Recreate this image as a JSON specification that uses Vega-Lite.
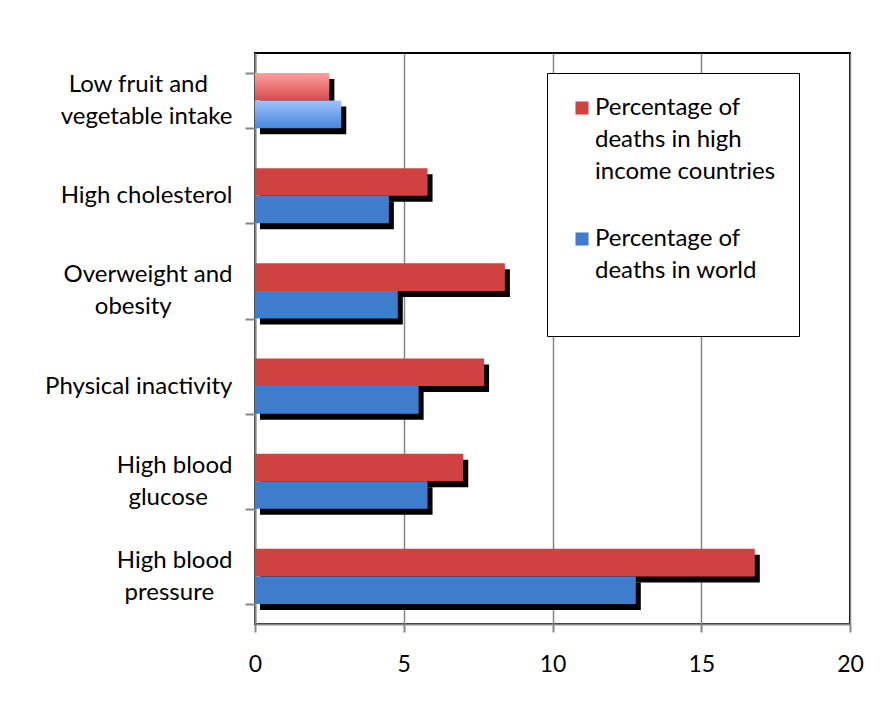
{
  "$schema": "https://vega.github.io/schema/vega-lite/v6.json",
  "width": 595,
  "height": 571,
  "autosize": {"type": "none"},
  "padding": {"left": 255, "top": 53, "right": 30, "bottom": 81},
  "background": "white",
  "config": {
    "font": "Lato",
    "view": {"stroke": "black", "strokeWidth": 2},
    "axis": {"labelFont": "Lato", "labelFontSize": 24, "labelColor": "black", "domainColor": "#868686", "domainWidth": 2, "tickColor": "#868686", "tickWidth": 2, "gridColor": "#868686", "gridWidth": 1.5}
  },
  "data": {
    "values": [
      {"risk": "Low fruit and vegetable intake", "series": "Percentage of deaths in high income countries", "pct": 2.5},
      {"risk": "Low fruit and vegetable intake", "series": "Percentage of deaths in world", "pct": 2.9},
      {"risk": "High cholesterol", "series": "Percentage of deaths in high income countries", "pct": 5.8},
      {"risk": "High cholesterol", "series": "Percentage of deaths in world", "pct": 4.5},
      {"risk": "Overweight and obesity", "series": "Percentage of deaths in high income countries", "pct": 8.4},
      {"risk": "Overweight and obesity", "series": "Percentage of deaths in world", "pct": 4.8},
      {"risk": "Physical inactivity", "series": "Percentage of deaths in high income countries", "pct": 7.7},
      {"risk": "Physical inactivity", "series": "Percentage of deaths in world", "pct": 5.5},
      {"risk": "High blood glucose", "series": "Percentage of deaths in high income countries", "pct": 7.0},
      {"risk": "High blood glucose", "series": "Percentage of deaths in world", "pct": 5.8},
      {"risk": "High blood pressure", "series": "Percentage of deaths in high income countries", "pct": 16.8},
      {"risk": "High blood pressure", "series": "Percentage of deaths in world", "pct": 12.8}
    ]
  },
  "encoding": {
    "y": {
      "field": "risk",
      "type": "nominal",
      "sort": ["Low fruit and vegetable intake", "High cholesterol", "Overweight and obesity", "Physical inactivity", "High blood glucose", "High blood pressure"],
      "scale": {"paddingInner": 0.42, "paddingOuter": 0.21},
      "axis": {
        "title": null,
        "tickBand": "extent",
        "tickSize": 10,
        "labelPadding": 13,
        "labelAlign": "right",
        "labelBaseline": "middle",
        "labelLimit": 260,
        "labelLineHeight": 16,
        "labelOffset": -16,
        "labelExpr": "datum.label == 'Low fruit and vegetable intake' ? ['Low fruit and\u00a0\u00a0\u00a0\u00a0\u200b', '\u200b', 'vegetable intake'] : datum.label == 'Overweight and obesity' ? ['Overweight and', '\u200b', 'obesity\u00a0\u00a0\u00a0\u00a0\u00a0\u00a0\u00a0\u00a0\u00a0\u00a0\u200b'] : datum.label == 'High blood glucose' ? ['High blood', '\u200b', 'glucose\u00a0\u00a0\u00a0\u00a0\u200b'] : datum.label == 'High blood pressure' ? ['High blood', '\u200b', 'pressure\u00a0\u00a0\u00a0\u200b'] : ['\u200b', datum.label]"
      }
    },
    "x": {
      "field": "pct",
      "type": "quantitative",
      "scale": {"domain": [0, 20], "nice": false},
      "axis": {"title": null, "values": [0, 5, 10, 15, 20], "tickSize": 8, "labelPadding": 21, "labelFontSize": 23, "labelFlush": false, "grid": true}
    }
  },
  "layer": [
    {
      "transform": [{"filter": "datum.series == 'Percentage of deaths in high income countries'"}],
      "mark": {"type": "bar", "color": "black", "height": 27.6, "yOffset": -7.8, "xOffset": 5, "x2Offset": 1}
    },
    {
      "transform": [{"filter": "datum.series == 'Percentage of deaths in world'"}],
      "mark": {"type": "bar", "color": "black", "height": 27.6, "yOffset": 19.8, "xOffset": 5, "x2Offset": 1}
    },
    {
      "transform": [{"filter": "datum.risk != 'Low fruit and vegetable intake'"}],
      "mark": {"type": "bar"},
      "encoding": {
        "yOffset": {"field": "series", "type": "nominal", "sort": ["Percentage of deaths in high income countries", "Percentage of deaths in world"]},
        "color": {
          "field": "series",
          "type": "nominal",
          "scale": {"domain": ["Percentage of deaths in high income countries", "Percentage of deaths in world"], "range": ["#D04242", "#3D7DCB"]},
          "legend": {
            "title": " ",
            "titleOrient": "bottom",
            "titleFontSize": 8,
            "titlePadding": 22,
            "orient": "none",
            "legendX": 292,
            "legendY": 20,
            "direction": "vertical",
            "symbolType": "square",
            "symbolSize": 170,
            "symbolOpacity": 1,
            "symbolStrokeWidth": 0,
            "labelFont": "Lato",
            "labelFontSize": 24,
            "labelColor": "black",
            "labelBaseline": "middle",
            "labelOffset": 1,
            "labelLimit": 260,
            "rowPadding": 43,
            "padding": 23,
            "strokeColor": "black",
            "fillColor": "white",
            "labelExpr": "datum.label == 'Percentage of deaths in world' ? ['Percentage of', 'deaths in world'] : ['Percentage of', 'deaths in high', 'income countries']",
            "encode": {
              "labels": {"update": {"lineHeight": {"value": 32}}}
            }
          }
        }
      }
    },
    {
      "transform": [{"filter": "datum.risk == 'Low fruit and vegetable intake' && datum.series == 'Percentage of deaths in high income countries'"}],
      "mark": {"type": "bar", "fill": {"gradient": "linear", "x1": 0, "y1": 0, "x2": 0, "y2": 1, "stops": [{"offset": 0, "color": "#FFA0A0"}, {"offset": 1, "color": "#D44A4A"}]}},
      "encoding": {"yOffset": {"field": "series", "type": "nominal", "sort": ["Percentage of deaths in high income countries", "Percentage of deaths in world"]}}
    },
    {
      "transform": [{"filter": "datum.risk == 'Low fruit and vegetable intake' && datum.series == 'Percentage of deaths in world'"}],
      "mark": {"type": "bar", "fill": {"gradient": "linear", "x1": 0, "y1": 0, "x2": 0, "y2": 1, "stops": [{"offset": 0, "color": "#9FC3FF"}, {"offset": 1, "color": "#4686D8"}]}},
      "encoding": {"yOffset": {"field": "series", "type": "nominal", "sort": ["Percentage of deaths in high income countries", "Percentage of deaths in world"]}}
    }
  ]
}
